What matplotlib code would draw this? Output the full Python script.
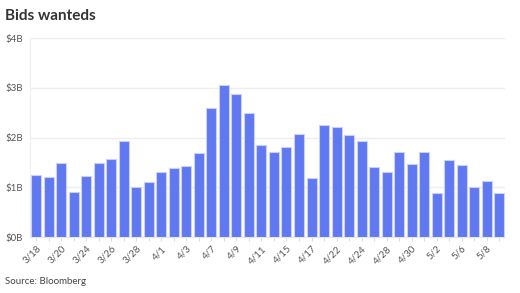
import matplotlib.pyplot as plt

# trading days, values in $B
dates = ["3/18", "3/19", "3/20", "3/21", "3/24", "3/25", "3/26", "3/27", "3/28", "3/31",
         "4/1", "4/2", "4/3", "4/4", "4/7", "4/8", "4/9", "4/10", "4/11", "4/14",
         "4/15", "4/16", "4/17", "4/21", "4/22", "4/23", "4/24", "4/25", "4/28", "4/29",
         "4/30", "5/1", "5/2", "5/5", "5/6", "5/7", "5/8", "5/9"]
values = [1.25, 1.21, 1.48, 0.91, 1.23, 1.49, 1.57, 1.93, 1.01, 1.10,
          1.30, 1.39, 1.43, 1.68, 2.59, 3.06, 2.87, 2.49, 1.86, 1.71,
          1.82, 2.07, 1.18, 2.25, 2.21, 2.06, 1.94, 1.41, 1.31, 1.70,
          1.47, 1.71, 0.89, 1.55, 1.45, 1.01, 1.12, 0.89]
y_ticks = [0, 1, 2, 3, 4]
y_labels = ["$0B", "$1B", "$2B", "$3B", "$4B"]

plt.rcParams["font.family"] = ["Lato", "DejaVu Sans"]

fig = plt.figure(figsize=(5.2, 2.93), dpi=100)
ax = fig.add_axes([0.0577, 0.191, 0.9143, 0.679])

x = range(len(dates))
ax.bar(x, values, width=0.8, color="#6079f0", edgecolor="#c9d1fb", linewidth=0.8, zorder=3)

ax.set_xlim(-0.5, len(dates) - 0.5)
ax.set_ylim(0, 4)
ax.set_yticks(y_ticks)
ax.set_yticklabels(y_labels)
ax.set_xticks(list(x))
ax.set_xticklabels([d if i % 2 == 0 else "" for i, d in enumerate(dates)],
                   rotation=45, ha="right", rotation_mode="anchor")

ax.grid(axis="y", color="#eeeeee", linewidth=1, zorder=0)
for s in ["top", "right"]:
    ax.spines[s].set_visible(False)
ax.spines["left"].set_color("#eeeeee")
ax.spines["bottom"].set_color("#e6e6e6")
ax.tick_params(axis="y", length=0, labelsize=7, labelcolor="#555555", pad=5)
ax.tick_params(axis="x", length=3, color="#dddddd", labelsize=7, labelcolor="#555555", pad=2)

fig.text(0.01, 0.945, "Bids wanteds", fontsize=11, fontweight="bold", color="#333333", va="center")
fig.text(0.01, 0.04, "Source: Bloomberg", fontsize=7, color="#444444", va="center")

fig.savefig("out.png", dpi=100)
